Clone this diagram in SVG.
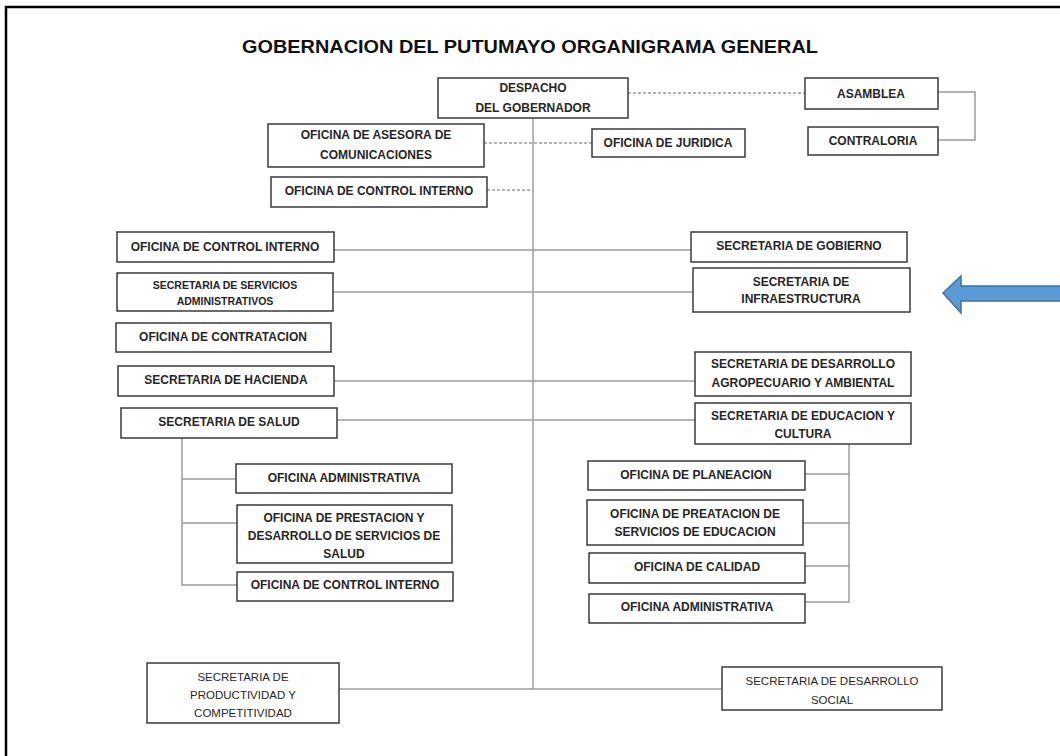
<svg xmlns="http://www.w3.org/2000/svg" width="1060" height="756" viewBox="0 0 1060 756">
<style>
.box{fill:#fff;stroke:#3a3a3a;stroke-width:1.5}
.t{font-family:"Liberation Sans",Arial,sans-serif;font-weight:bold;font-size:12px;fill:#262626;text-anchor:middle}
.s{font-size:10.5px}
.r{font-weight:normal;font-size:11.5px}
.c{stroke:#9c9c9c;stroke-width:1.5;fill:none}
.d{stroke-dasharray:3 2}
</style>
<rect x="0" y="0" width="1060" height="756" fill="#fff"/>
<rect x="6" y="7" width="1070" height="770" fill="none" stroke="#000" stroke-width="2.5"/>
<text x="530" y="53" font-family="Liberation Sans,Arial,sans-serif" font-weight="bold" font-size="19" fill="#111" text-anchor="middle" textLength="576" lengthAdjust="spacingAndGlyphs">GOBERNACION DEL PUTUMAYO ORGANIGRAMA GENERAL</text>
<g id="connectors">
<line class="c d" x1="628" y1="93" x2="805" y2="93"/>
<path class="c" d="M938,92 H975 V140 H938"/>
<line class="c d" x1="484" y1="143" x2="592" y2="143"/>
<line class="c d" x1="487" y1="190" x2="533" y2="190"/>
<line class="c" x1="533" y1="118" x2="533" y2="689"/>
<line class="c" x1="334" y1="250" x2="691" y2="250"/>
<line class="c" x1="333" y1="292" x2="693" y2="292"/>
<line class="c" x1="334" y1="381" x2="695" y2="381"/>
<line class="c" x1="337" y1="420" x2="695" y2="420"/>
<path class="c" d="M182,438 V585 H237 M182,479 H236 M182,523 H237"/>
<path class="c" d="M849,444 V602 H805 M805,474 H849 M803,523 H849 M805,566 H849"/>
<line class="c" x1="339" y1="689" x2="722" y2="689"/>
</g>
<g id="despacho"><rect class="box" x="438" y="78" width="190" height="40"/><text class="t" x="533" y="92">DESPACHO</text><text class="t" x="533" y="112">DEL GOBERNADOR</text></g>
<g id="asamblea"><rect class="box" x="805" y="78" width="133" height="31"/><text class="t" x="871" y="98">ASAMBLEA</text></g>
<g id="contraloria"><rect class="box" x="808" y="127" width="130" height="28"/><text class="t" x="873" y="145">CONTRALORIA</text></g>
<g id="asesora"><rect class="box" x="268" y="124" width="216" height="43"/><text class="t" x="376" y="139">OFICINA DE ASESORA DE</text><text class="t" x="376" y="159">COMUNICACIONES</text></g>
<g id="juridica"><rect class="box" x="592" y="129" width="153" height="28"/><text class="t" x="668" y="147">OFICINA DE JURIDICA</text></g>
<g id="control-interno-top"><rect class="box" x="271" y="177" width="216" height="30"/><text class="t" x="379" y="195">OFICINA DE CONTROL INTERNO</text></g>
<g id="control-interno"><rect class="box" x="117" y="232" width="217" height="30"/><text class="t" x="225" y="251">OFICINA DE CONTROL INTERNO</text></g>
<g id="gobierno"><rect class="box" x="691" y="232" width="216" height="30"/><text class="t" x="799" y="250">SECRETARIA DE GOBIERNO</text></g>
<g id="servicios"><rect class="box" x="117" y="273" width="216" height="38"/><text class="t s" x="225" y="289">SECRETARIA DE SERVICIOS</text><text class="t s" x="225" y="305">ADMINISTRATIVOS</text></g>
<g id="infraestructura"><rect class="box" x="693" y="268" width="217" height="44"/><text class="t" x="801" y="286">SECRETARIA DE</text><text class="t" x="801" y="303">INFRAESTRUCTURA</text></g>
<g id="contratacion"><rect class="box" x="116" y="323" width="215" height="29"/><text class="t" x="223" y="341">OFICINA DE CONTRATACION</text></g>
<g id="hacienda"><rect class="box" x="118" y="366" width="216" height="30"/><text class="t" x="226" y="384">SECRETARIA DE HACIENDA</text></g>
<g id="agropecuario"><rect class="box" x="695" y="352" width="216" height="44"/><text class="t" x="803" y="368">SECRETARIA DE DESARROLLO</text><text class="t" x="803" y="387">AGROPECUARIO Y AMBIENTAL</text></g>
<g id="salud"><rect class="box" x="121" y="408" width="216" height="30"/><text class="t" x="229" y="426">SECRETARIA DE SALUD</text></g>
<g id="educacion"><rect class="box" x="695" y="403" width="216" height="41"/><text class="t" x="803" y="420">SECRETARIA DE EDUCACION Y</text><text class="t" x="803" y="438">CULTURA</text></g>
<g id="admin-salud"><rect class="box" x="236" y="464" width="216" height="29"/><text class="t" x="344" y="482">OFICINA ADMINISTRATIVA</text></g>
<g id="prestacion"><rect class="box" x="237" y="505" width="215" height="58"/><text class="t" x="344" y="522">OFICINA DE PRESTACION Y</text><text class="t" x="344" y="540">DESARROLLO DE SERVICIOS DE</text><text class="t" x="344" y="558">SALUD</text></g>
<g id="control-salud"><rect class="box" x="237" y="572" width="216" height="29"/><text class="t" x="345" y="589">OFICINA DE CONTROL INTERNO</text></g>
<g id="planeacion"><rect class="box" x="588" y="461" width="217" height="29"/><text class="t" x="696" y="479">OFICINA DE PLANEACION</text></g>
<g id="preatacion"><rect class="box" x="587" y="500" width="216" height="45"/><text class="t" x="695" y="518">OFICINA DE PREATACION DE</text><text class="t" x="695" y="536">SERVICIOS DE EDUCACION</text></g>
<g id="calidad"><rect class="box" x="589" y="553" width="216" height="30"/><text class="t" x="697" y="571">OFICINA DE CALIDAD</text></g>
<g id="admin-edu"><rect class="box" x="589" y="594" width="216" height="29"/><text class="t" x="697" y="611">OFICINA ADMINISTRATIVA</text></g>
<g id="productividad"><rect class="box" x="147" y="663" width="192" height="60"/><text class="t r" x="243" y="681">SECRETARIA DE</text><text class="t r" x="243" y="699">PRODUCTIVIDAD Y</text><text class="t r" x="243" y="717">COMPETITIVIDAD</text></g>
<g id="desarrollo-social"><rect class="box" x="722" y="667" width="220" height="43"/><text class="t r" x="832" y="685">SECRETARIA DE DESARROLLO</text><text class="t r" x="832" y="704">SOCIAL</text></g>
<g id="arrow"><polygon points="943,293 961,276 961,286 1062,286 1062,301 961,301 961,313" fill="#5b9bd5" stroke="#41719c" stroke-width="1.5"/></g>
</svg>
